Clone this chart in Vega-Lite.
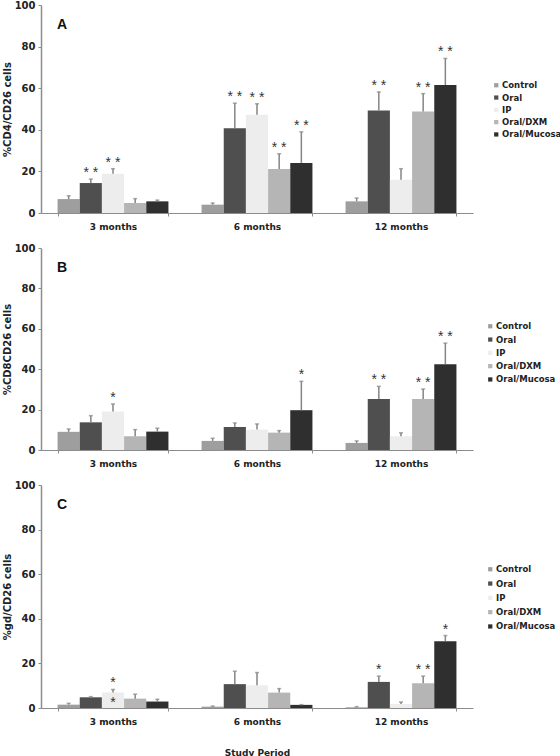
{
  "$schema": "https://vega.github.io/schema/vega-lite/v6.json",
  "padding": {"left": 2, "top": 0, "right": 0, "bottom": 0},
  "spacing": 12,
  "config": {
    "view": {"stroke": null},
    "font": "DejaVu Sans",
    "axis": {"domainColor": "#8c8c8c", "domainWidth": 1.5, "tickColor": "#8c8c8c", "tickSize": 3, "labelFont": "DejaVu Sans", "labelFontWeight": "bold", "labelColor": "#222", "titleFont": "DejaVu Sans", "titleFontWeight": "bold", "titleColor": "#222", "grid": false},
    "axisY": {"values": [0, 20, 40, 60, 80, 100], "labelFontSize": 10, "titleFontSize": 10, "labelPadding": 3, "titlePadding": 2},
    "legend": {"labelFont": "DejaVu Sans", "labelFontWeight": "bold", "labelFontSize": 8.5, "labelColor": "#222", "symbolType": "square", "symbolSize": 18, "symbolStrokeWidth": 0, "labelOffset": 1.5},
    "title": {"font": "Liberation Sans", "fontWeight": "bold", "fontSize": 14, "color": "#111", "anchor": "start", "baseline": "middle", "frame": "group"}
  },
  "datasets": {
    "a": [
      {"period": "3 months", "group": "Control", "value": 6.7, "err": 8.3, "star": ""},
      {"period": "3 months", "group": "Oral", "value": 14.4, "err": 16.3, "star": "* *"},
      {"period": "3 months", "group": "IP", "value": 18.9, "err": 21.3, "star": "* *"},
      {"period": "3 months", "group": "Oral/DXM", "value": 4.8, "err": 6.9, "star": ""},
      {"period": "3 months", "group": "Oral/Mucosa", "value": 5.6, "err": 6.2, "star": ""},
      {"period": "6 months", "group": "Control", "value": 4.0, "err": 4.8, "star": ""},
      {"period": "6 months", "group": "Oral", "value": 40.8, "err": 52.8, "star": "* *"},
      {"period": "6 months", "group": "IP", "value": 47.2, "err": 52.5, "star": "* *"},
      {"period": "6 months", "group": "Oral/DXM", "value": 21.1, "err": 28.5, "star": "* *"},
      {"period": "6 months", "group": "Oral/Mucosa", "value": 24.0, "err": 39.0, "star": "* *"},
      {"period": "12 months", "group": "Control", "value": 5.6, "err": 7.2, "star": ""},
      {"period": "12 months", "group": "Oral", "value": 49.3, "err": 58.2, "star": "* *"},
      {"period": "12 months", "group": "IP", "value": 16.0, "err": 21.3, "star": ""},
      {"period": "12 months", "group": "Oral/DXM", "value": 48.8, "err": 57.4, "star": "* *"},
      {"period": "12 months", "group": "Oral/Mucosa", "value": 61.5, "err": 74.3, "star": "* *"}
    ],
    "b": [
      {"period": "3 months", "group": "Control", "value": 9.0, "err": 10.4, "star": ""},
      {"period": "3 months", "group": "Oral", "value": 13.7, "err": 17.0, "star": ""},
      {"period": "3 months", "group": "IP", "value": 19.0, "err": 22.8, "star": "*"},
      {"period": "3 months", "group": "Oral/DXM", "value": 6.8, "err": 10.1, "star": ""},
      {"period": "3 months", "group": "Oral/Mucosa", "value": 9.1, "err": 10.8, "star": ""},
      {"period": "6 months", "group": "Control", "value": 4.5, "err": 5.8, "star": ""},
      {"period": "6 months", "group": "Oral", "value": 11.4, "err": 13.4, "star": ""},
      {"period": "6 months", "group": "IP", "value": 10.1, "err": 12.9, "star": ""},
      {"period": "6 months", "group": "Oral/DXM", "value": 8.6, "err": 9.6, "star": ""},
      {"period": "6 months", "group": "Oral/Mucosa", "value": 19.7, "err": 34.0, "star": "*"},
      {"period": "12 months", "group": "Control", "value": 3.5, "err": 4.5, "star": ""},
      {"period": "12 months", "group": "Oral", "value": 25.2, "err": 31.5, "star": "* *"},
      {"period": "12 months", "group": "IP", "value": 6.8, "err": 8.5, "star": ""},
      {"period": "12 months", "group": "Oral/DXM", "value": 25.2, "err": 30.2, "star": "* *"},
      {"period": "12 months", "group": "Oral/Mucosa", "value": 42.5, "err": 52.9, "star": "* *"}
    ],
    "c": [
      {"period": "3 months", "group": "Control", "value": 1.5, "err": 2.1, "star": ""},
      {"period": "3 months", "group": "Oral", "value": 4.8, "err": 5.1, "star": ""},
      {"period": "3 months", "group": "IP", "value": 6.9, "err": 8.3, "star": ["*", "*"]},
      {"period": "3 months", "group": "Oral/DXM", "value": 4.2, "err": 6.2, "star": ""},
      {"period": "3 months", "group": "Oral/Mucosa", "value": 2.9, "err": 3.9, "star": ""},
      {"period": "6 months", "group": "Control", "value": 0.6, "err": 0.9, "star": ""},
      {"period": "6 months", "group": "Oral", "value": 10.7, "err": 16.5, "star": ""},
      {"period": "6 months", "group": "IP", "value": 10.2, "err": 15.9, "star": ""},
      {"period": "6 months", "group": "Oral/DXM", "value": 6.9, "err": 8.7, "star": ""},
      {"period": "6 months", "group": "Oral/Mucosa", "value": 1.4, "err": 1.5, "star": ""},
      {"period": "12 months", "group": "Control", "value": 0.3, "err": 0.6, "star": ""},
      {"period": "12 months", "group": "Oral", "value": 11.7, "err": 14.3, "star": "*"},
      {"period": "12 months", "group": "IP", "value": 1.8, "err": 2.7, "star": ""},
      {"period": "12 months", "group": "Oral/DXM", "value": 11.1, "err": 14.3, "star": "* *"},
      {"period": "12 months", "group": "Oral/Mucosa", "value": 29.9, "err": 32.5, "star": "*"}
    ]
  },
  "vconcat": [
    {
      "width": 432, "height": 208,
      "data": {"name": "a"},
      "title": {"text": "A", "dx": 16, "offset": -19, "dy": 13},
      "encoding": {
        "x": {"field": "period", "type": "nominal", "sort": ["3 months", "6 months", "12 months"], "scale": {"paddingInner": 0.23, "paddingOuter": 0.115}, "axis": {"title": null, "labelAngle": 0, "tickBand": "extent", "labelFontSize": 9, "labelPadding": 6, "domainWidth": 1}},
        "xOffset": {"field": "group", "type": "nominal", "sort": ["Control", "Oral", "IP", "Oral/DXM", "Oral/Mucosa"], "scale": {"paddingInner": 0, "paddingOuter": 0}}
      },
      "layer": [
        {"mark": {"type": "bar"},
         "encoding": {
           "y": {"field": "value", "type": "quantitative", "title": "%CD4/CD26 cells", "scale": {"domain": [0, 100]}},
           "color": {"field": "group", "type": "nominal", "sort": ["Control", "Oral", "IP", "Oral/DXM", "Oral/Mucosa"], "scale": {"domain": ["Control", "Oral", "IP", "Oral/DXM", "Oral/Mucosa"], "range": ["#9e9e9e", "#4f4f4f", "#ededed", "#b5b5b5", "#2f2f2f"]}, "legend": {"title": null, "orient": "none", "legendX": 451, "legendY": 76, "rowPadding": 3.3}}
         }},
        {"mark": {"type": "rule", "color": "#858585", "strokeWidth": 1.5},
         "encoding": {"y": {"field": "value", "type": "quantitative", "title": "%CD4/CD26 cells"}, "y2": {"field": "err"}}},
        {"mark": {"type": "tick", "orient": "horizontal", "size": 4, "thickness": 1.5, "color": "#858585"},
         "encoding": {"y": {"field": "err", "type": "quantitative", "title": "%CD4/CD26 cells"}}},
        {"transform": [{"filter": "datum.star != ''"}],
         "mark": {"type": "text", "font": "Liberation Sans", "fontSize": 14, "color": "#333", "baseline": "middle", "dy": -6, "lineHeight": 20},
         "encoding": {"y": {"field": "err", "type": "quantitative", "title": "%CD4/CD26 cells"}, "text": {"field": "star"}}}
      ]
    },
    {
      "width": 432, "height": 202,
      "data": {"name": "b"},
      "title": {"text": "B", "dx": 16, "offset": -19, "dy": 13},
      "encoding": {
        "x": {"field": "period", "type": "nominal", "sort": ["3 months", "6 months", "12 months"], "scale": {"paddingInner": 0.23, "paddingOuter": 0.115}, "axis": {"title": null, "labelAngle": 0, "tickBand": "extent", "labelFontSize": 9, "labelPadding": 6, "domainWidth": 1}},
        "xOffset": {"field": "group", "type": "nominal", "sort": ["Control", "Oral", "IP", "Oral/DXM", "Oral/Mucosa"], "scale": {"paddingInner": 0, "paddingOuter": 0}}
      },
      "layer": [
        {"mark": {"type": "bar"},
         "encoding": {
           "y": {"field": "value", "type": "quantitative", "title": "%CD8CD26 cells", "scale": {"domain": [0, 100]}},
           "color": {"field": "group", "type": "nominal", "sort": ["Control", "Oral", "IP", "Oral/DXM", "Oral/Mucosa"], "scale": {"domain": ["Control", "Oral", "IP", "Oral/DXM", "Oral/Mucosa"], "range": ["#9e9e9e", "#4f4f4f", "#ededed", "#b5b5b5", "#2f2f2f"]}, "legend": {"title": null, "orient": "none", "legendX": 445, "legendY": 74, "rowPadding": 4.3}}
         }},
        {"mark": {"type": "rule", "color": "#858585", "strokeWidth": 1.5},
         "encoding": {"y": {"field": "value", "type": "quantitative", "title": "%CD8CD26 cells"}, "y2": {"field": "err"}}},
        {"mark": {"type": "tick", "orient": "horizontal", "size": 4, "thickness": 1.5, "color": "#858585"},
         "encoding": {"y": {"field": "err", "type": "quantitative", "title": "%CD8CD26 cells"}}},
        {"transform": [{"filter": "datum.star != ''"}],
         "mark": {"type": "text", "font": "Liberation Sans", "fontSize": 14, "color": "#333", "baseline": "middle", "dy": -6, "lineHeight": 20},
         "encoding": {"y": {"field": "err", "type": "quantitative", "title": "%CD8CD26 cells"}, "text": {"field": "star"}}}
      ]
    },
    {
      "width": 432, "height": 223,
      "data": {"name": "c"},
      "title": {"text": "C", "dx": 16, "offset": -19, "dy": 13},
      "encoding": {
        "x": {"field": "period", "type": "nominal", "sort": ["3 months", "6 months", "12 months"], "scale": {"paddingInner": 0.23, "paddingOuter": 0.115}, "axis": {"title": "Study Period", "titleFontSize": 9, "titlePadding": 22, "labelAngle": 0, "tickBand": "extent", "labelFontSize": 9, "labelPadding": 6, "domainWidth": 1}},
        "xOffset": {"field": "group", "type": "nominal", "sort": ["Control", "Oral", "IP", "Oral/DXM", "Oral/Mucosa"], "scale": {"paddingInner": 0, "paddingOuter": 0}}
      },
      "layer": [
        {"mark": {"type": "bar"},
         "encoding": {
           "y": {"field": "value", "type": "quantitative", "title": "%gd/CD26 cells", "scale": {"domain": [0, 100]}},
           "color": {"field": "group", "type": "nominal", "sort": ["Control", "Oral", "IP", "Oral/DXM", "Oral/Mucosa"], "scale": {"domain": ["Control", "Oral", "IP", "Oral/DXM", "Oral/Mucosa"], "range": ["#9e9e9e", "#4f4f4f", "#ededed", "#b5b5b5", "#2f2f2f"]}, "legend": {"title": null, "orient": "none", "legendX": 445, "legendY": 80, "rowPadding": 5.3}}
         }},
        {"mark": {"type": "rule", "color": "#858585", "strokeWidth": 1.5},
         "encoding": {"y": {"field": "value", "type": "quantitative", "title": "%gd/CD26 cells"}, "y2": {"field": "err"}}},
        {"mark": {"type": "tick", "orient": "horizontal", "size": 4, "thickness": 1.5, "color": "#858585"},
         "encoding": {"y": {"field": "err", "type": "quantitative", "title": "%gd/CD26 cells"}}},
        {"transform": [{"filter": "datum.star != ''"}],
         "mark": {"type": "text", "font": "Liberation Sans", "fontSize": 14, "color": "#333", "baseline": "middle", "dy": -6, "lineHeight": 20},
         "encoding": {"y": {"field": "err", "type": "quantitative", "title": "%gd/CD26 cells"}, "text": {"field": "star"}}}
      ]
    }
  ],
  "resolve": {"scale": {"color": "independent"}}
}
